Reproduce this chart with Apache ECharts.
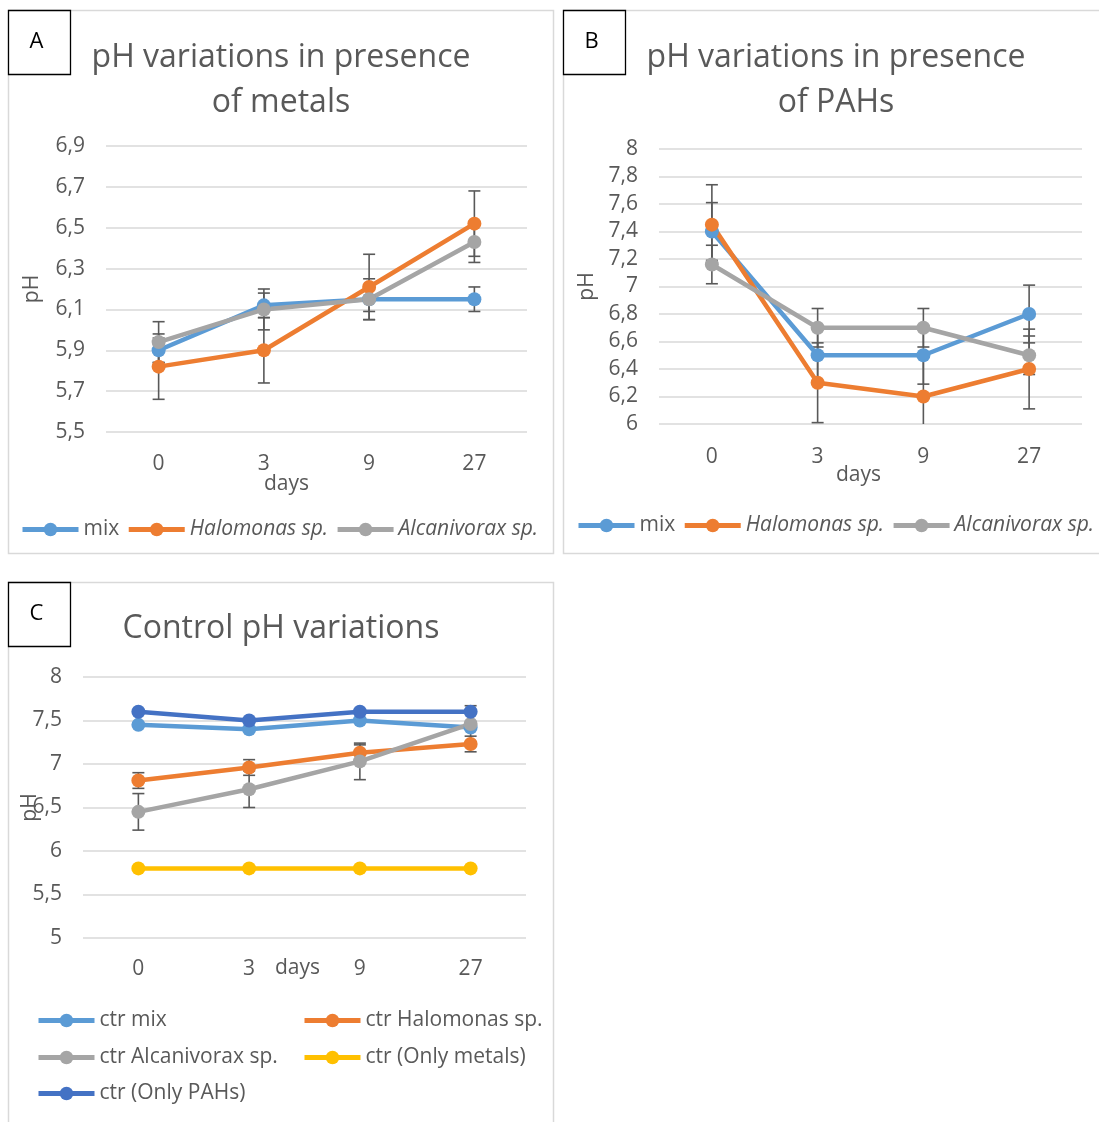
<!DOCTYPE html>
<html>
<head>
<meta charset="utf-8">
<script src="https://cdn.jsdelivr.net/npm/echarts@6/dist/echarts.min.js"></script>
<style>
  html, body { margin: 0; padding: 0; background: #ffffff; }
  #chart { width: 1099px; height: 1122px; }
</style>
</head>
<body>
<div id="chart"></div>
<script>
// ---- sampling days ----
const days = ['0', '3', '9', '27'];

// ---- A: pH in presence of metals ----
const metalsMix = [5.90, 6.12, 6.15, 6.15];
const metalsHalomonas = [5.82, 5.90, 6.21, 6.52];
const metalsAlcanivorax = [5.94, 6.10, 6.15, 6.43];
const metalsMixErr = [0.06, 0.06, 0.06, 0.06];
const metalsHalomonasErr = [0.16, 0.16, 0.16, 0.16];
const metalsAlcanivoraxErr = [0.10, 0.10, 0.10, 0.10];
const metalsTicks = [5.5, 5.7, 5.9, 6.1, 6.3, 6.5, 6.7, 6.9];

// ---- B: pH in presence of PAHs ----
const pahsMix = [7.40, 6.50, 6.50, 6.80];
const pahsHalomonas = [7.45, 6.30, 6.20, 6.40];
const pahsAlcanivorax = [7.16, 6.70, 6.70, 6.50];
const pahsMixErr = [0.21, 0.21, 0.21, 0.21];
const pahsHalomonasErr = [0.29, 0.29, 0.29, 0.29];
const pahsAlcanivoraxErr = [0.14, 0.14, 0.14, 0.14];
const pahsTicks = [6, 6.2, 6.4, 6.6, 6.8, 7, 7.2, 7.4, 7.6, 7.8, 8];

// ---- C: controls ----
const ctrMix = [7.45, 7.40, 7.50, 7.42];
const ctrHalomonas = [6.81, 6.96, 7.13, 7.23];
const ctrAlcanivorax = [6.45, 6.71, 7.03, 7.46];
const ctrOnlyMetals = [5.80, 5.80, 5.80, 5.80];
const ctrOnlyPAHs = [7.60, 7.50, 7.60, 7.60];
const ctrHalomonasErr = [0.09, 0.09, 0.09, 0.09];
const ctrAlcanivoraxErr = [0.21, 0.21, 0.21, 0.21];
const ctrTicks = [5, 5.5, 6, 6.5, 7, 7.5, 8];

// ---- styling ----
const FONT = '"Open Sans"';
const TXT = '#595959';
const GRIDLINE = '#D9D9D9';
const C_BLUE = '#5B9BD5', C_ORANGE = '#ED7D31', C_GREY = '#A5A5A5',
      C_YELLOW = '#FFC000', C_DARK = '#4472C4';

const comma = v => String(Math.round(v * 10) / 10).replace('.', ',');

function xAxisFor(gridIndex, labelMargin, nameGap, namePad) {
  return {
    type: 'category', gridIndex, data: days, boundaryGap: true,
    axisLine: { show: false }, axisTick: { show: false },
    axisLabel: { color: TXT, fontFamily: FONT, fontSize: 21, margin: labelMargin },
    name: 'days', nameLocation: 'middle', nameGap, nameMoveOverlap: false,
    nameTextStyle: { color: TXT, fontFamily: FONT, fontSize: 21, padding: namePad || 0 }
  };
}
function yAxisFor(gridIndex, ticks, nameGap) {
  return {
    type: 'value', gridIndex,
    min: ticks[0], max: ticks[ticks.length - 1],
    interval: Math.round((ticks[1] - ticks[0]) * 100) / 100,
    axisLine: { show: false }, axisTick: { show: false },
    splitLine: { lineStyle: { color: GRIDLINE, width: 1.5 } },
    axisLabel: { color: TXT, fontFamily: FONT, fontSize: 21, margin: 21, formatter: comma },
    name: 'pH', nameLocation: 'middle', nameRotate: 90, nameGap, nameMoveOverlap: false,
    nameTextStyle: { color: TXT, fontFamily: FONT, fontSize: 21 }
  };
}
function lineSeries(name, idx, values, color) {
  return {
    type: 'line', name, xAxisIndex: idx, yAxisIndex: idx, data: values,
    symbol: 'circle', symbolSize: 14, showSymbol: true,
    lineStyle: { color, width: 4.5 }, itemStyle: { color },
    emphasis: { disabled: true }, z: 3
  };
}
function errorSeries(idx, values, errs) {
  return {
    type: 'custom', xAxisIndex: idx, yAxisIndex: idx, z: 2, clip: true,
    silent: true,
    data: values.map((v, i) => [i, v - errs[i], v + errs[i]]),
    encode: { x: 0, y: [1, 2] },
    renderItem(params, api) {
      const x = api.value(0);
      const lo = api.coord([x, api.value(1)]);
      const hi = api.coord([x, api.value(2)]);
      const h = 6;
      const st = { stroke: '#595959', lineWidth: 1.6 };
      return {
        type: 'group', children: [
          { type: 'line', shape: { x1: hi[0], y1: hi[1], x2: lo[0], y2: lo[1] }, style: st },
          { type: 'line', shape: { x1: hi[0] - h, y1: hi[1], x2: hi[0] + h, y2: hi[1] }, style: st },
          { type: 'line', shape: { x1: lo[0] - h, y1: lo[1], x2: lo[0] + h, y2: lo[1] }, style: st }
        ]
      };
    }
  };
}
const legendText = { color: TXT, fontFamily: FONT, fontSize: 21 };
const legendCommon = {
  itemWidth: 56, itemHeight: 17, padding: 0, selectedMode: false,
  textStyle: legendText, lineStyle: { width: 5 }
};
const italic = name => ({ name, textStyle: { fontStyle: 'italic' } });
function ctrLegend(name, left, top) {
  return Object.assign({ data: [name], left, top }, legendCommon);
}

// ---- frames, panel letters and titles ----
function frame(x, y, w, h) {
  return { type: 'rect', shape: { x, y, width: w, height: h },
    style: { fill: 'none', stroke: GRIDLINE, lineWidth: 1.5 }, z: 0 };
}
function letterBox(x, y, letter) {
  return { type: 'group', z: 10, children: [
    { type: 'rect', shape: { x, y, width: 62, height: 64 },
      style: { fill: '#ffffff', stroke: '#000000', lineWidth: 1.3 } },
    { type: 'text', x: x + 28, y: y + 31,
      style: { text: letter, fill: '#000000', font: '22px ' + FONT, textAlign: 'center', textVerticalAlign: 'middle' } }
  ]};
}
function titleText(x, y, text) {
  return { type: 'text', x, y, z: 10,
    style: { text, fill: TXT, font: '32px ' + FONT, textAlign: 'center', textVerticalAlign: 'top', lineHeight: 45 } };
}

const chart = echarts.init(document.getElementById('chart'), null, { renderer: 'canvas' });
chart.setOption({
  animation: false,
  backgroundColor: '#ffffff',
  textStyle: { fontFamily: FONT },
  graphic: [
    frame(8.5, 10.5, 545, 543),
    frame(563.5, 10.5, 560, 543),
    frame(8.5, 582.5, 545, 560),
    letterBox(8.5, 10.5, 'A'),
    letterBox(563.5, 10.5, 'B'),
    letterBox(8.5, 582.5, 'C'),
    titleText(281, 35, 'pH variations in presence\nof metals'),
    titleText(836, 35, 'pH variations in presence\nof PAHs'),
    titleText(281, 606, 'Control pH variations')
  ],
  grid: [
    { left: 106, top: 146, width: 421, height: 286 },
    { left: 659, top: 149, width: 423, height: 275 },
    { left: 83, top: 677, width: 443, height: 261 }
  ],
  xAxis: [
    xAxisFor(0, 22, 42, [0, 60, 0, 0]),
    xAxisFor(1, 23, 41, [0, 24, 0, 0]),
    xAxisFor(2, 21, 20, [0, 14, 0, 0])
  ],
  yAxis: [yAxisFor(0, metalsTicks, 63), yAxisFor(1, pahsTicks, 61), yAxisFor(2, ctrTicks, 42)],
  legend: [
    Object.assign({ data: ['mix', italic('Halomonas sp.'), italic('Alcanivorax sp.')],
      left: 20, top: 519, itemGap: 7 }, legendCommon),
    Object.assign({ data: ['mix', italic('Halomonas sp.'), italic('Alcanivorax sp.')],
      left: 576, top: 515, itemGap: 7 }, legendCommon),
    ctrLegend('ctr mix', 36, 1010),
    ctrLegend('ctr Halomonas sp.', 302, 1010),
    ctrLegend('ctr Alcanivorax sp.', 36, 1047),
    ctrLegend('ctr (Only metals)', 302, 1047),
    ctrLegend('ctr (Only PAHs)', 36, 1083)
  ],
  series: [
    errorSeries(0, metalsMix, metalsMixErr),
    errorSeries(0, metalsHalomonas, metalsHalomonasErr),
    errorSeries(0, metalsAlcanivorax, metalsAlcanivoraxErr),
    lineSeries('mix', 0, metalsMix, C_BLUE),
    lineSeries('Halomonas sp.', 0, metalsHalomonas, C_ORANGE),
    lineSeries('Alcanivorax sp.', 0, metalsAlcanivorax, C_GREY),

    errorSeries(1, pahsMix, pahsMixErr),
    errorSeries(1, pahsHalomonas, pahsHalomonasErr),
    errorSeries(1, pahsAlcanivorax, pahsAlcanivoraxErr),
    lineSeries('mix', 1, pahsMix, C_BLUE),
    lineSeries('Halomonas sp.', 1, pahsHalomonas, C_ORANGE),
    lineSeries('Alcanivorax sp.', 1, pahsAlcanivorax, C_GREY),

    errorSeries(2, ctrHalomonas, ctrHalomonasErr),
    errorSeries(2, ctrAlcanivorax, ctrAlcanivoraxErr),
    lineSeries('ctr mix', 2, ctrMix, C_BLUE),
    lineSeries('ctr Halomonas sp.', 2, ctrHalomonas, C_ORANGE),
    lineSeries('ctr Alcanivorax sp.', 2, ctrAlcanivorax, C_GREY),
    lineSeries('ctr (Only metals)', 2, ctrOnlyMetals, C_YELLOW),
    lineSeries('ctr (Only PAHs)', 2, ctrOnlyPAHs, C_DARK)
  ]
});
</script>
</body>
</html>
